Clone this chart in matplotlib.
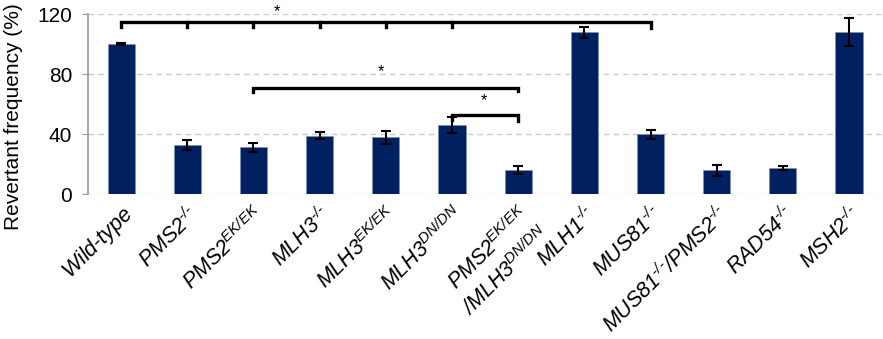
import matplotlib
matplotlib.use('Agg')
import matplotlib.pyplot as plt
import numpy as np

plt.rcParams['font.family'] = ['Liberation Sans', 'DejaVu Sans']
plt.rcParams['mathtext.fontset'] = 'custom'
plt.rcParams['mathtext.rm'] = 'Liberation Sans:italic'
plt.rcParams['mathtext.it'] = 'Liberation Sans:italic'

# 数据
labels = [r'$Wild\text{-}type$',
          r'$PMS2^{\text{-/-}}$',
          r'$PMS2^{EK/EK}$',
          r'$MLH3^{\text{-/-}}$',
          r'$MLH3^{EK/EK}$',
          r'$MLH3^{DN/DN}$',
          '$PMS2^{EK/EK}$\n$/MLH3^{DN/DN}$',
          r'$MLH1^{\text{-/-}}$',
          r'$MUS81^{\text{-/-}}$',
          r'$MUS81^{\text{-/-}}/PMS2^{\text{-/-}}$',
          r'$RAD54^{\text{-/-}}$',
          r'$MSH2^{\text{-/-}}$']
values = [100, 32.5, 31.2, 39, 37.8, 46, 16, 107.8, 39.8, 15.7, 17.3, 107.8]
errors = [0.5, 3.4, 2.9, 2.6, 4.4, 5.5, 2.8, 3.7, 3.0, 3.5, 1.5, 9.3]

x = np.arange(len(labels))

fig = plt.figure(figsize=(8.83, 3.39), dpi=100)
ax = fig.add_axes([0.0997, 0.4277, 0.8993, 0.531])

ax.bar(x, values, width=0.41, color='#002060', edgecolor='#8090b8', linewidth=0.4, zorder=3)
ax.errorbar(x, values, yerr=errors, fmt='none', ecolor='black', elinewidth=1.5,
            capsize=3.3, capthick=1.5, zorder=4)

ax.set_xlim(-0.5, 11.5)
ax.set_ylim(0, 120)
ax.set_yticks([0, 40, 80, 120])
ax.tick_params(axis='y', labelsize=15, length=4.5, color='#999999', pad=7)
ax.tick_params(axis='x', length=0, pad=6)
ax.yaxis.grid(True, linestyle=(0, (4, 3)), color='#cccccc', linewidth=1, zorder=0)
for s in ['top', 'right', 'bottom']:
    ax.spines[s].set_visible(False)
ax.spines['left'].set_color('#999999')
ax.spines['left'].set_linewidth(1.2)

ax.set_xticks(x)
ax.set_xticklabels(labels, rotation=45, ha='right', rotation_mode='anchor', fontsize=15.5,
                   linespacing=1.25)
ax.set_ylabel('Revertant frequency (%)', fontsize=15)
ax.yaxis.set_label_coords(-0.082, 0.43)

# 显著性标记
lw = 2.4
def bracket(x0, x1, y, drop_l, drop_r, mids=()):
    ax.plot([x0, x0, x1, x1], [y - drop_l, y, y, y - drop_r], color='black',
            lw=lw, clip_on=False, solid_joinstyle='miter', zorder=5)
    for m in mids:
        ax.plot([m, m], [y, y - 3.3], color='black', lw=lw, clip_on=False, zorder=5)

bracket(0, 8, 114.5, 3, 4, mids=[1, 2, 3, 4, 5])
bracket(2, 6, 71, 3, 2.5)
bracket(5, 6, 52.5, 3, 3.5)

ax.text(2.36, 121.5, '*', ha='center', va='center', fontsize=12, clip_on=False)
ax.text(3.92, 81.5, '*', ha='center', va='center', fontsize=12)
ax.text(5.48, 62.5, '*', ha='center', va='center', fontsize=12)

plt.savefig('out.png', dpi=100)
